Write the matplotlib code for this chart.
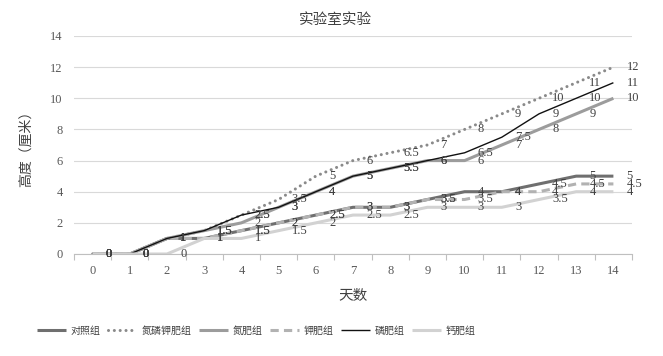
import matplotlib.pyplot as plt

plt.rcParams['font.family'] = ['Liberation Serif', 'Noto Sans CJK SC']

# data (height in cm per day)
days = list(range(15))
control = [0, 0, 1, 1, 1.5, 2, 2.5, 3, 3, 3.5, 4, 4, 4.5, 5, 5]
npk = [0, 0, 1, 1.5, 2.5, 3.5, 5, 6, 6.5, 7, 8, 9, 10, 11, 12]
nitrogen = [0, 0, 1, 1.5, 2, 3, 4, 5, 5.5, 6, 6, 7, 8, 9, 10]
potassium = [0, 0, 1, 1, 1.5, 2, 2.5, 3, 3, 3.5, 3.5, 4, 4, 4.5, 4.5]
phosphorus = [0, 0, 1, 1.5, 2.5, 3, 4, 5, 5.5, 6, 6.5, 7.5, 9, 10, 11]
calcium = [0, 0, 0, 1, 1, 1.5, 2, 2.5, 2.5, 3, 3, 3, 3.5, 4, 4]

names = ['对照组', '氮磷钾肥组', '氮肥组', '钾肥组', '磷肥组', '钙肥组']
series = [control, npk, nitrogen, potassium, phosphorus, calcium]
styles = [
    dict(color='#6f6f6f', lw=2.2, ls='-'),
    dict(color='#8a8a8a', lw=2.2, ls=(0, (0.01, 1.9)), dash_capstyle='round'),
    dict(color='#9c9c9c', lw=2.2, ls='-'),
    dict(color='#b2b2b2', lw=2.2, ls=(0, (2.7, 1.7))),
    dict(color='#111111', lw=1.0, ls='-'),
    dict(color='#d2d2d2', lw=2.2, ls='-'),
]

fig = plt.figure(figsize=(6.63, 3.56), dpi=100)
ax = fig.add_axes([74 / 663, 1 - 254 / 356, 558 / 663, 218 / 356])

for name, vals, st in zip(names, series, styles):
    ax.plot(days, vals, label=name, solid_capstyle='butt', **st)

# data labels to the right of each point
for vals in series:
    for d, v in zip(days, vals):
        ax.annotate(f'{v:g}', xy=(d, v), xytext=(9.5, 0), textcoords='offset points',
                    ha='left', va='center', fontsize=9, color='#404040')

ax.set_xlim(-0.5, 14.5)
ax.set_ylim(0, 14)
ax.set_yticks(range(0, 15, 2))
ax.set_xticks(days)
ax.set_xticks([d - 0.5 for d in days] + [14.5], minor=True)
ax.tick_params(axis='y', length=0, pad=8, labelsize=9, labelcolor='#595959')
ax.tick_params(axis='x', which='major', length=0, pad=8, labelsize=9, labelcolor='#595959')
ax.tick_params(axis='x', which='minor', length=4, width=0.8, color='#bfbfbf')
ax.grid(axis='y', color='#d9d9d9', lw=0.8)
ax.set_axisbelow(True)
for s in ['top', 'right', 'left']:
    ax.spines[s].set_visible(False)
ax.spines['bottom'].set_color('#bfbfbf')
ax.spines['bottom'].set_linewidth(0.8)

ax.set_xlabel('天数', fontsize=10.5, color='#404040')
ax.xaxis.set_label_coords(0.5, -(290 - 254) / 218)
ax.set_ylabel('高度（厘米）', fontsize=10, color='#404040')
ax.yaxis.set_label_coords(-(74 - 33) / 558, 0.5)

fig.text(336 / 663, 1 - 20 / 356, '实验室实验', ha='center', va='center',
         fontsize=10.5, color='#404040')

fig.legend(loc='center', bbox_to_anchor=(256 / 663, 1 - 331 / 356), ncol=6,
           frameon=False, fontsize=7.2, handlelength=2.9, handletextpad=0.45,
           columnspacing=0.75, labelcolor='#404040')

fig.savefig('out.png', dpi=100)
plt.close(fig)
